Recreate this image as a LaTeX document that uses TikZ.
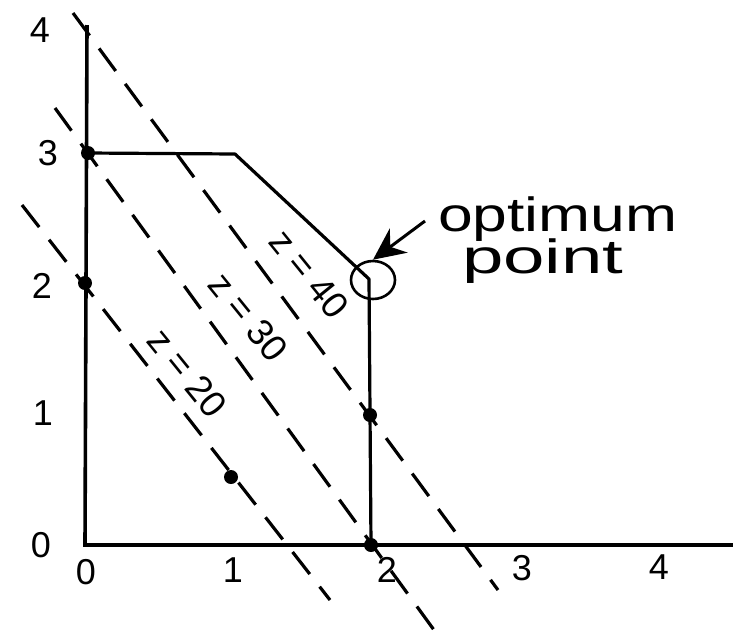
\documentclass[tikz,border=0pt]{standalone}
\usepackage{fontspec}
\setmainfont{Liberation Sans}
\usetikzlibrary{arrows.meta,shapes.geometric}
\begin{document}
\begin{tikzpicture}[x=1pt,y=-1pt,
  axis/.style={line width=3.6pt},
  region/.style={line width=3.2pt, line join=round},
  isoline/.style={line width=3.2pt, dash pattern=on 28pt off 16pt},
  dot/.style={circle, fill=black, inner sep=0pt, minimum size=14pt},
  num/.style={font=\fontsize{36}{36}\selectfont, inner sep=0pt},
  zlab/.style={font=\fontsize{37}{37}\selectfont, inner sep=0pt, rotate=-51},
  note/.style={font=\fontsize{48}{48}\selectfont, inner sep=0pt, anchor=base west},
  ]
\useasboundingbox[fill=white] (0,0) rectangle (733,630);

% axes
\coordinate (O) at (85,545);
\coordinate (ytop) at (87,25);
\coordinate (xend) at (733,545);
\draw[axis] (ytop) -- (O) -- (xend);

% feasible region boundary
\node[dot] (p03) at (88,153) {};
\coordinate (c13) at (235,154);
\coordinate (c22) at (369,279);
\node[dot] (p20) at (371,545) {};
\draw[region] (p03.center) -- (c13) -- (c22) -- (p20.center);

% other marked points
\node[dot] (p02) at (85,283) {};
\node[dot] (p105) at (231,477) {};
\node[dot] (p21) at (370,415) {};

% iso-profit lines
\coordinate (z20a) at (22,205);
\coordinate (z20b) at (330,600);
\coordinate (z30a) at (55,108);
\coordinate (z30b) at (434,630);
\coordinate (z40a) at (73,13);
\coordinate (z40b) at (498,590);
\draw[isoline] (z20a) -- (z20b);
\draw[isoline] (z30a) -- (z30b);
\draw[isoline] (z40a) -- (z40b);

% line labels
\node[zlab] (l20) at (187,373) {z = 20};
\node[zlab] (l30) at (248,317) {z = 30};
\node[zlab] (l40) at (309,274) {z = 40};

% optimum point
\node[draw, ellipse, line width=2.6pt, minimum width=44pt, minimum height=38pt, inner sep=0pt] (opt) at (373,280) {};
\node[note] (t1) at (438,231) {\scalebox{1.3}[1]{optimum}};
\node[note] (t2) at (462,273) {\scalebox{1.55}[1]{point}};
\coordinate (arrtail) at (425,221);
\draw[line width=3pt, -{Stealth[length=32pt,width=30pt]}] (arrtail) -- (opt.north);

% axis numbers
\node[num] (y4) at (40,30) {4};
\node[num] (y3) at (48,153) {3};
\node[num] (y2) at (42,286) {2};
\node[num] (y1) at (43,413) {1};
\node[num] (y0) at (41,545) {0};
\node[num] (x0) at (86,572) {0};
\node[num] (x1) at (233,570) {1};
\node[num] (x2) at (387,570) {2};
\node[num] (x3) at (522,568) {3};
\node[num] (x4) at (659,567) {4};
\end{tikzpicture}
\end{document}
